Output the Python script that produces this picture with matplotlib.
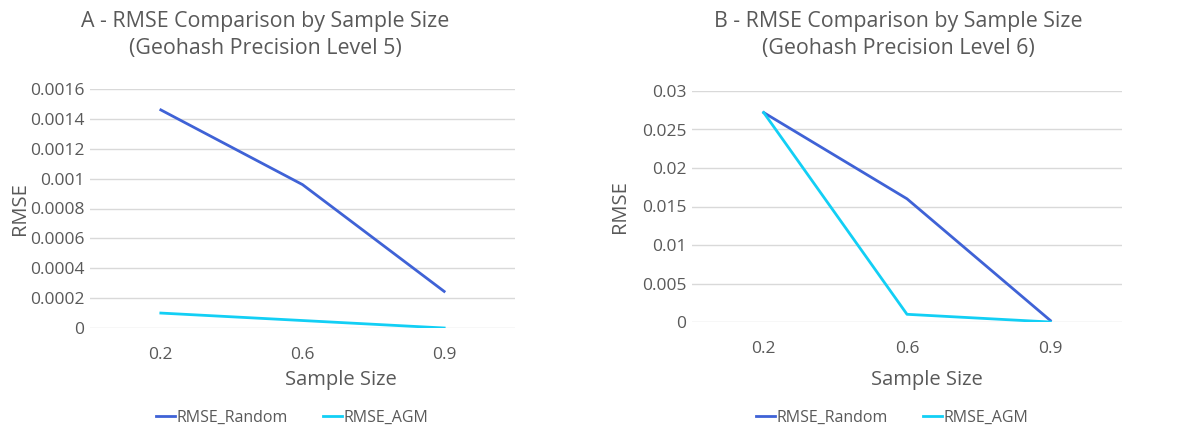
import matplotlib
matplotlib.use('Agg')
import matplotlib.pyplot as plt

plt.rcParams['font.family'] = ['Open Sans', 'DejaVu Sans']

# Data for both panels
sample_sizes = ['0.2', '0.6', '0.9']

rmse_random_l5 = [0.00146, 0.00096, 0.000245]
rmse_agm_l5 = [0.0001, 0.00005, 0.0]
yticks_l5 = [0, 0.0002, 0.0004, 0.0006, 0.0008, 0.001, 0.0012, 0.0014, 0.0016]
ylabels_l5 = ['0', '0.0002', '0.0004', '0.0006', '0.0008', '0.001', '0.0012', '0.0014', '0.0016']

rmse_random_l6 = [0.0272, 0.016, 0.0002]
rmse_agm_l6 = [0.0272, 0.001, 0.0]
yticks_l6 = [0, 0.005, 0.01, 0.015, 0.02, 0.025, 0.03]
ylabels_l6 = ['0', '0.005', '0.01', '0.015', '0.02', '0.025', '0.03']

titles = ['A - RMSE Comparison by Sample Size\n(Geohash Precision Level 5)',
          'B - RMSE Comparison by Sample Size\n(Geohash Precision Level 6)']

c_random = '#3F62D6'
c_agm = '#12CFF5'
c_text = '#595959'
c_grid = '#D9D9D9'

W, H = 1177, 429
fig = plt.figure(figsize=(W / 100, H / 100), dpi=100)

def px_axes(x0, x1, ytop, ybot):
    return fig.add_axes([x0 / W, (H - ybot) / H, (x1 - x0) / W, (ybot - ytop) / H])

panels = [
    dict(box=(90, 515, 89, 328), rnd=rmse_random_l5, agm=rmse_agm_l5,
         yt=yticks_l5, yl=ylabels_l5, title_x=265, xlab_x=341, ylab_x=20, leg_x=292),
    dict(box=(692, 1122, 91, 322), rnd=rmse_random_l6, agm=rmse_agm_l6,
         yt=yticks_l6, yl=ylabels_l6, title_x=898, xlab_x=927, ylab_x=620, leg_x=892),
]

for p, title in zip(panels, titles):
    x0, x1, yt, yb = p['box']
    ax = px_axes(x0, x1, yt, yb)
    xs = range(len(sample_sizes))
    l1, = ax.plot(xs, p['rnd'], color=c_random, lw=2, label='RMSE_Random')
    l2, = ax.plot(xs, p['agm'], color=c_agm, lw=2, label='RMSE_AGM')
    ax.set_xlim(-0.5, len(sample_sizes) - 0.5)
    ax.set_ylim(p['yt'][0], p['yt'][-1])
    ax.set_yticks(p['yt'])
    ax.set_yticklabels(p['yl'])
    ax.set_xticks(list(xs))
    ax.set_xticklabels(sample_sizes)
    ax.tick_params(length=0, labelsize=12.5, colors=c_text)
    ax.tick_params(axis='y', pad=4)
    ax.tick_params(axis='x', pad=14)
    ax.grid(axis='y', color=c_grid, lw=1)
    ax.set_axisbelow(True)
    for s in ax.spines.values():
        s.set_visible(False)

    fig.text(p['title_x'] / W, 1 - 35 / H, title, ha='center', va='center',
             fontsize=15.4, color=c_text, linespacing=1.35)
    fig.text(p['xlab_x'] / W, 1 - 380 / H, 'Sample Size', ha='center', va='center',
             fontsize=14.5, color=c_text)
    fig.text(p['ylab_x'] / W, 1 - (yt + yb) / 2 / H, 'RMSE', ha='center', va='center',
             rotation=90, fontsize=14.5, color=c_text)
    fig.legend(handles=[l1, l2], loc='center', bbox_to_anchor=(p['leg_x'] / W, 1 - 418 / H),
               ncol=2, frameon=False, fontsize=11.5, handlelength=1.2, handletextpad=0.1,
               columnspacing=2.2, labelcolor=c_text)

fig.savefig('out.png', dpi=100, facecolor='white')
